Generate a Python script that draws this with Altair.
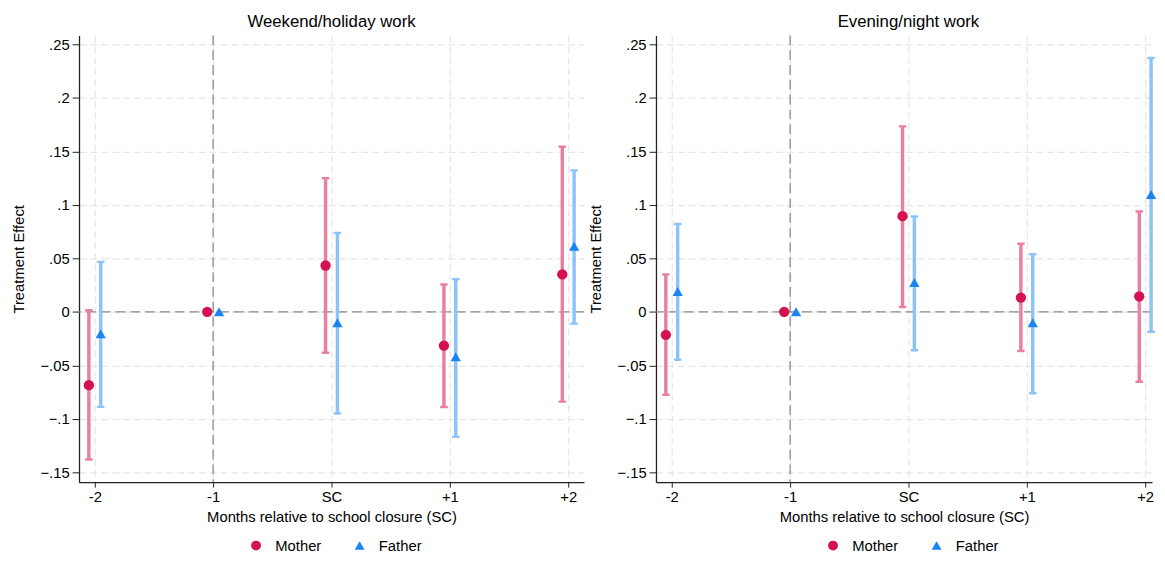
import json
import altair as alt
import pandas as pd

# ---------------- data ----------------
months = [-2, -1, 0, 1, 2]
month_labels = ["-2", "-1", "SC", "+1", "+2"]
groups = ["Mother", "Father"]
y_ticks = [-0.15, -0.1, -0.05, 0, 0.05, 0.1, 0.15, 0.2, 0.25]

weekend_mother_est = [-0.0685, 0.0, 0.0433, -0.0316, 0.0350]
weekend_mother_lo = [-0.1380, None, -0.0383, -0.0890, -0.0839]
weekend_mother_hi = [0.0016, None, 0.1248, 0.0255, 0.1543]
weekend_father_est = [-0.0205, 0.0, -0.0101, -0.0420, 0.0612]
weekend_father_lo = [-0.0888, None, -0.0949, -0.1167, -0.0110]
weekend_father_hi = [0.0467, None, 0.0737, 0.0304, 0.1322]

evening_mother_est = [-0.0215, 0.0, 0.0894, 0.0133, 0.0145]
evening_mother_lo = [-0.0774, None, 0.0046, -0.0365, -0.0654]
evening_mother_hi = [0.0350, None, 0.1733, 0.0636, 0.0937]
evening_father_est = [0.0190, 0.0, 0.0274, -0.0101, 0.1097]
evening_father_lo = [-0.0448, None, -0.0359, -0.0761, -0.0187]
evening_father_hi = [0.0820, None, 0.0891, 0.0538, 0.2372]

# ---------------- styling ----------------
FONT = "Liberation Sans"
POINT_COLORS = ["#d5114f", "#1c84f0"]
BAR_COLORS = {"Mother": "#e9809f", "Father": "#8cc3f8"}
X_TITLE = "Months relative to school closure (SC)"
Y_TITLE = "Treatment Effect"

AXIS_STYLE = dict(
    labelFont=FONT, titleFont=FONT, labelFontSize=15, titleFontSize=15,
    labelColor="black", titleColor="black", titleFontWeight="normal",
    grid=True, gridDash=[7, 4], gridColor="#e6e6e6", gridWidth=1.2,
    domainColor="#222222", domainWidth=1.3, tickColor="#222222",
)


def panel_df(m_est, m_lo, m_hi, f_est, f_lo, f_hi):
    rows = []
    for i, m in enumerate(months):
        rows.append(dict(month=m, sex="Mother", est=m_est[i], lo=m_lo[i], hi=m_hi[i]))
        rows.append(dict(month=m, sex="Father", est=f_est[i], lo=f_lo[i], hi=f_hi[i]))
    return pd.DataFrame(rows)


def panel(df, title, width, xmax, title_dx):
    xscale = alt.Scale(domain=[-2.1333, xmax], nice=False, zero=False)
    yscale = alt.Scale(domain=[-0.1592, 0.2583], nice=False, zero=False)
    xaxis = alt.Axis(
        values=months,
        labelExpr=json.dumps(month_labels) + "[datum.value + 2]",
        title=X_TITLE, tickSize=5, labelPadding=3, titlePadding=5,
        **AXIS_STYLE,
    )
    yaxis = alt.Axis(
        values=y_ticks,
        labelExpr="datum.value == 0 ? '0' : replace(format(datum.value, '.2~f'), '0.', '.')",
        title=Y_TITLE, tickSize=7, labelPadding=3, titlePadding=14,
        **AXIS_STYLE,
    )
    base = alt.Chart(df).transform_calculate(
        xpos="datum.month + (datum.sex == 'Mother' ? -0.05 : 0.05)"
    )
    X = alt.X("xpos:Q", scale=xscale, axis=xaxis)

    vline = alt.Chart(pd.DataFrame({"v": [-1]})).mark_rule(
        color="#8a8a8a", strokeDash=[10, 5], strokeWidth=1.3
    ).encode(x=alt.X("v:Q", scale=xscale, axis=xaxis))
    hline = alt.Chart(pd.DataFrame({"v": [0]})).mark_rule(
        color="#8a8a8a", strokeDash=[10, 5], strokeWidth=1.3
    ).encode(y=alt.Y("v:Q", scale=yscale, axis=yaxis))

    layers = [vline, hline]
    for sex in groups:
        b = base.transform_filter(f"datum.sex == '{sex}' && isValid(datum.lo)")
        col = BAR_COLORS[sex]
        layers.append(
            b.mark_rule(color=col, strokeWidth=3.5).encode(
                x=X,
                y=alt.Y("lo:Q", scale=yscale, axis=yaxis),
                y2="hi:Q",
            )
        )
        for fld in ["lo", "hi"]:
            layers.append(
                b.mark_tick(color=col, orient="horizontal", size=8, thickness=2.5,
                            cornerRadius=1.2, opacity=1).encode(
                    x=X, y=alt.Y(f"{fld}:Q", scale=yscale, axis=yaxis)
                )
            )

    leg = alt.Legend(
        title=None, orient="none", legendX=172, legendY=509.5, direction="horizontal",
        symbolSize=100, labelFontSize=15, labelFont=FONT, labelColor="black",
        labelOffset=12, columnPadding=31, symbolStrokeWidth=0,
    )
    pts = base.mark_point(filled=True, opacity=1, size=110, strokeWidth=0).encode(
        x=X,
        y=alt.Y("est:Q", scale=yscale, axis=yaxis),
        color=alt.Color("sex:N", scale=alt.Scale(domain=groups, range=POINT_COLORS), legend=leg),
        shape=alt.Shape("sex:N", scale=alt.Scale(domain=groups, range=["circle", "triangle-up"]), legend=leg),
    )
    layers.append(pts)

    return alt.layer(*layers).properties(
        width=width, height=453,
        title=alt.TitleParams(text=title, fontSize=17, fontWeight="normal", font=FONT,
                              color="black", anchor="middle", offset=4, dx=title_dx),
    )


left = panel(
    panel_df(weekend_mother_est, weekend_mother_lo, weekend_mother_hi,
             weekend_father_est, weekend_father_lo, weekend_father_hi),
    "Weekend/holiday work", 512, 2.1333, 0,
)
right = panel(
    panel_df(evening_mother_est, evening_mother_lo, evening_mother_hi,
             evening_father_est, evening_father_lo, evening_father_hi),
    "Evening/night work", 503, 2.0583, 4.5,
)

chart = (
    alt.hconcat(left, right, spacing=3)
    .resolve_scale(x="independent", y="independent", color="independent", shape="independent")
    .resolve_legend(color="independent", shape="independent")
    .properties(padding={"left": 3, "top": 1, "right": 0, "bottom": -3}, background="white")
    .configure_view(stroke=None)
)

chart.save("out.html", embed_options={"renderer": "svg", "actions": False})
